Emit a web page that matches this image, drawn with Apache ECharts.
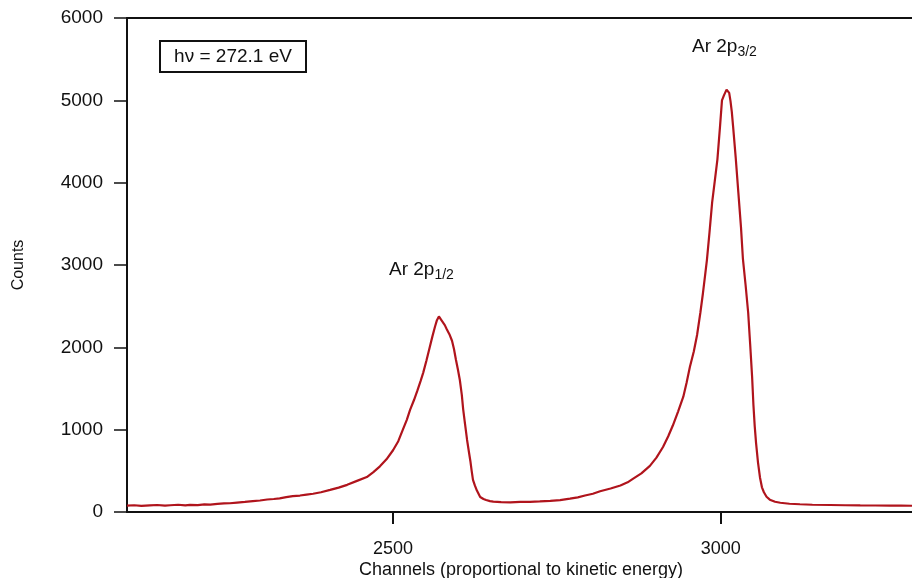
<!DOCTYPE html>
<html>
<head>
<meta charset="utf-8">
<script src="https://cdn.jsdelivr.net/npm/echarts@6/dist/echarts.min.js"></script>
<style>
  html, body { margin: 0; padding: 0; background: #fff; }
  #chart { width: 912px; height: 578px; }
</style>
</head>
<body>
<div id="chart"></div>
<script>
// Ar 2p photoelectron spectrum, hν = 272.1 eV
const channels = [
  2094, 2105, 2116, 2129, 2140, 2152, 2160, 2172, 2183, 2190, 2202, 2212, 2221, 2232, 2242, 2251,
  2262, 2274, 2286, 2297, 2308, 2318, 2327, 2337, 2347, 2358, 2368, 2378, 2390, 2404, 2417, 2430,
  2445, 2460, 2470, 2480, 2490, 2500, 2508, 2515, 2521, 2526, 2532, 2537, 2542, 2546, 2551, 2556,
  2560, 2564, 2567, 2570, 2573, 2576, 2579, 2582, 2586, 2590, 2593, 2596, 2599, 2602, 2605, 2607,
  2610, 2613, 2616, 2618, 2620, 2622, 2625, 2628, 2633, 2638, 2642, 2648, 2653, 2665, 2679, 2694,
  2709, 2724, 2740, 2755, 2770, 2782, 2793, 2805, 2816, 2832, 2847, 2858, 2866, 2879, 2892, 2902,
  2912, 2920, 2927, 2935, 2943, 2948, 2953, 2959, 2964, 2969, 2973, 2976, 2979, 2983, 2987, 2991,
  2995, 2997, 2999, 3002, 3005, 3007, 3009, 3011, 3013, 3015, 3017, 3019, 3023, 3027, 3031, 3034,
  3038, 3042, 3045, 3048, 3050, 3052, 3054, 3057, 3060, 3063, 3066, 3070, 3075, 3083, 3091, 3105,
  3121, 3140, 3167, 3190, 3213, 3236, 3259, 3275, 3292
];
const counts = [
  78, 82, 74, 80, 85, 77, 82, 88, 80, 86, 84, 92, 90, 98, 104, 106,
  115, 122, 132, 140, 152, 158, 166, 180, 192, 200, 212, 222, 240, 268, 296, 330,
  378, 425, 485, 555, 640, 750, 860, 1000, 1120, 1240, 1360, 1470, 1590, 1690, 1840, 2000,
  2130, 2250, 2330, 2375, 2340, 2320, 2270, 2220, 2160, 2080, 1980, 1850, 1730, 1600, 1420, 1250,
  1060, 875, 720, 620, 500, 390, 320, 260, 182, 158, 145, 132, 125, 121, 118, 122,
  124, 128, 136, 145, 162, 178, 200, 222, 252, 285, 322, 360, 402, 470, 560, 660,
  790, 920, 1050, 1220, 1400, 1570, 1760, 1950, 2150, 2420, 2660, 2860, 3060, 3400, 3760, 4020,
  4280, 4480, 4680, 5000, 5060, 5070, 5130, 5110, 5090, 4990, 4860, 4680, 4300, 3880, 3460, 3070,
  2760, 2420, 2040, 1640, 1300, 1040, 840, 600, 420, 300, 240, 185, 150, 124, 112, 100,
  94, 88, 85, 82, 80, 79, 77, 79, 76
];
const yTicks = [0, 1000, 2000, 3000, 4000, 5000, 6000];
const xTickValues = [2500, 3000];
const xTitle = 'Channels (proportional to kinetic energy)';

const spectrum = channels.map((c, i) => [c, counts[i]]);

const chart = echarts.init(document.getElementById('chart'), null, { renderer: 'canvas' });
const labelFont = 'Liberation Sans, Arial, sans-serif';
const plain = v => String(v);

chart.setOption({
  animation: false,
  backgroundColor: '#ffffff',
  grid: { left: 127, right: 0, top: 18, bottom: 66, containLabel: false, outerBoundsMode: 'none' },
  xAxis: [
    {
      type: 'value',
      min: 2094,
      max: 3292,
      axisLine: { show: true, lineStyle: { color: '#111', width: 2 } },
      axisTick: { show: true, inside: false, length: 12, customValues: xTickValues, lineStyle: { color: '#111', width: 2 } },
      axisLabel: { customValues: xTickValues, formatter: plain, margin: 28, fontFamily: labelFont, fontSize: 18, color: '#111' },
      splitLine: { show: false }
    },
    {
      type: 'value',
      position: 'top',
      min: 2094,
      max: 3292,
      axisLine: { show: true, lineStyle: { color: '#111', width: 2 } },
      axisTick: { show: false },
      axisLabel: { show: false },
      splitLine: { show: false }
    }
  ],
  yAxis: {
    type: 'value',
    min: yTicks[0],
    max: yTicks[yTicks.length - 1],
    interval: 1000,
    name: 'Counts',
    nameLocation: 'middle',
    nameGap: 100,
    nameRotate: 90,
    nameTextStyle: { fontFamily: labelFont, fontSize: 16, color: '#111' },
    axisLine: { show: true, lineStyle: { color: '#111', width: 2 } },
    axisTick: { show: true, inside: false, length: 13, lineStyle: { color: '#111', width: 1.5 } },
    axisLabel: { formatter: plain, margin: 24, fontFamily: labelFont, fontSize: 19, color: '#111' },
    splitLine: { show: false }
  },
  series: [
    {
      type: 'line',
      data: spectrum,
      showSymbol: false,
      smooth: false,
      lineStyle: { color: '#b0141c', width: 2.2 },
      silent: true
    }
  ],
  graphic: [
    {
      type: 'text',
      x: 521,
      y: 570,
      style: { text: xTitle, fontFamily: labelFont, fontSize: 18, fill: '#111', align: 'center', verticalAlign: 'middle' }
    },
    {
      type: 'group',
      left: 159,
      top: 40,
      children: [
        { type: 'rect', shape: { x: 0, y: 0, width: 146, height: 31 }, style: { fill: '#fff', stroke: '#111', lineWidth: 2 } },
        { type: 'text', x: 73, y: 16, style: { text: 'hν = 272.1 eV', fontFamily: labelFont, fontSize: 19, fill: '#111', align: 'center', verticalAlign: 'middle' } }
      ]
    },
    {
      type: 'text',
      left: 389,
      top: 260,
      style: {
        rich: {
          m: { fontFamily: labelFont, fontSize: 19, fill: '#111' },
          s: { fontFamily: labelFont, fontSize: 14, fill: '#111', padding: [11, 0, 0, 0] }
        },
        text: '{m|Ar 2p}{s|1/2}'
      }
    },
    {
      type: 'text',
      left: 692,
      top: 37,
      style: {
        rich: {
          m: { fontFamily: labelFont, fontSize: 19, fill: '#111' },
          s: { fontFamily: labelFont, fontSize: 14, fill: '#111', padding: [11, 0, 0, 0] }
        },
        text: '{m|Ar 2p}{s|3/2}'
      }
    }
  ]
});
</script>
</body>
</html>
